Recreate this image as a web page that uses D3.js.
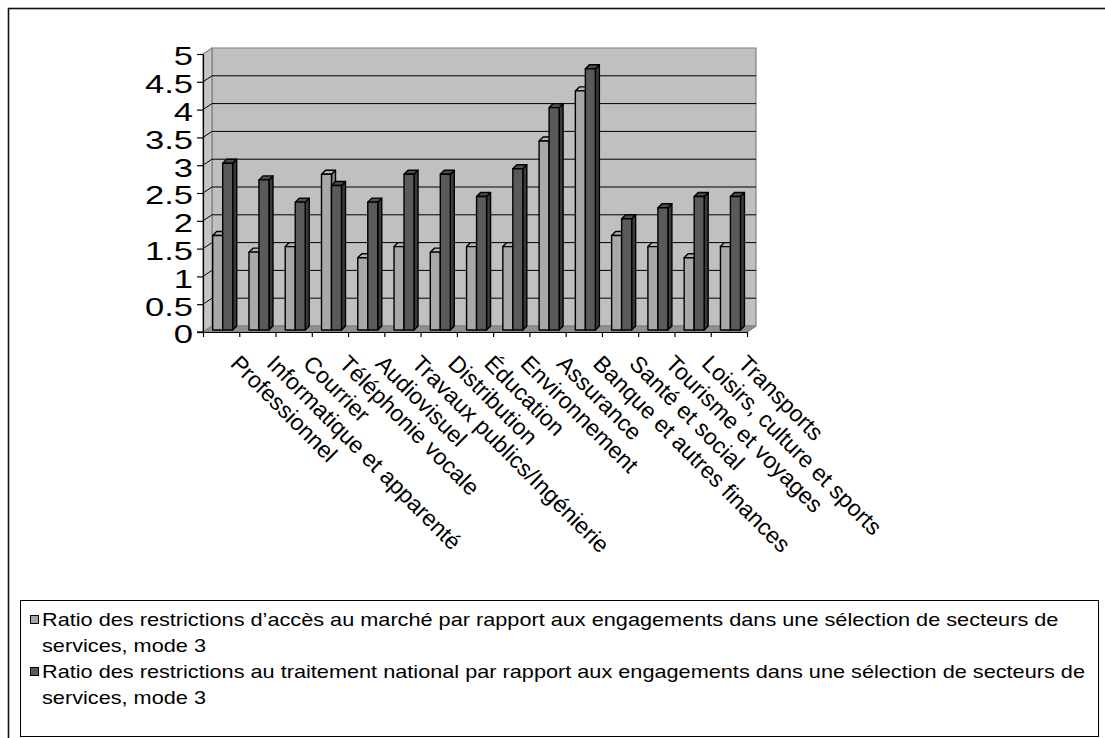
<!DOCTYPE html>
<html>
<head>
<meta charset="utf-8">
<script src="https://cdn.jsdelivr.net/npm/d3@7"></script>
<style>
  html, body { margin: 0; padding: 0; background: #fff; }
  svg { display: block; font-family: "Liberation Sans", Arial, sans-serif; }
</style>
</head>
<body>
<svg id="chart" width="1105" height="738"></svg>
<script>
// Sectors of services (x axis)
const categories = [
  "Professionnel", "Informatique et apparenté", "Courrier", "Téléphonie vocale",
  "Audiovisuel", "Travaux publics/Ingénierie", "Distribution", "Éducation",
  "Environnement", "Assurance", "Banque et autres finances", "Santé et social",
  "Tourisme et voyages", "Loisirs, culture et sports", "Transports"
];
// Ratio of market-access restrictions to commitments, mode 3
const accesMarche = [1.7, 1.4, 1.5, 2.8, 1.3, 1.5, 1.4, 1.5, 1.5, 3.4, 4.3, 1.7, 1.5, 1.3, 1.5];
// Ratio of national-treatment restrictions to commitments, mode 3
const traitementNational = [3.0, 2.7, 2.3, 2.6, 2.3, 2.8, 2.8, 2.4, 2.9, 4.0, 4.7, 2.0, 2.2, 2.4, 2.4];
const yTicks = [0, 0.5, 1, 1.5, 2, 2.5, 3, 3.5, 4, 4.5, 5];
const yTickLabels = ["0", "0.5", "1", "1.5", "2", "2.5", "3", "3.5", "4", "4.5", "5"];
const seriesNames = [
  "Ratio des restrictions d’accès au marché par rapport aux engagements dans une sélection de secteurs de services, mode 3",
  "Ratio des restrictions au traitement national par rapport aux engagements dans une sélection de secteurs de services, mode 3"
];

const svg = d3.select("#chart");

// palette: front / top / side faces for each series
const faces = [
  { front: "#a8a8a8", top: "#b4b4b4", side: "#8a8a8a" },
  { front: "#5a5a5a", top: "#4e4e4e", side: "#3a3a3a" }
];

// front plane geometry, depth offset of the back wall
const x0 = 203, x1 = 747;
const wallDx = 9, wallDy = -6;

const x = d3.scaleBand().domain(categories).range([x0, x1]).padding(0);
const xEdge = d3.scaleLinear().domain([0, categories.length]).range([x0, x1]);
const y = d3.scaleLinear().domain([0, 5]).range([332, 54]);

// outer frame (right and bottom edges lie past the page)
svg.append("rect")
  .attr("x", 8.5).attr("y", 8.5).attr("width", 1120).attr("height", 760)
  .attr("fill", "none").attr("stroke", "#111").attr("stroke-width", 1.6);

const pts = a => a.map(p => p.join(",")).join(" ");

// back wall
svg.append("polygon")
  .attr("points", pts([[x0 + wallDx, y(5) + wallDy], [x1 + wallDx, y(5) + wallDy],
                       [x1 + wallDx, y(0) + wallDy], [x0 + wallDx, y(0) + wallDy]]))
  .attr("fill", "#c0c0c0").attr("stroke", "#808080").attr("stroke-width", 1.2);

// left side wall
svg.append("polygon")
  .attr("points", pts([[x0, y(0)], [x0, y(5)], [x0 + wallDx, y(5) + wallDy], [x0 + wallDx, y(0) + wallDy]]))
  .attr("fill", "#c4c4c4").attr("stroke", "#808080").attr("stroke-width", 1.2);

// floor
svg.append("polygon")
  .attr("points", pts([[x0, y(0)], [x1, y(0)], [x1 + wallDx, y(0) + wallDy], [x0 + wallDx, y(0) + wallDy]]))
  .attr("fill", "#8f8f8f").attr("stroke", "#808080").attr("stroke-width", 1);

// gridlines on back wall and side wall
const grid = svg.append("g");
yTicks.filter(t => t > 0 && t < 5).forEach(t => {
  grid.append("line")
    .attr("x1", x0 + wallDx).attr("x2", x1 + wallDx)
    .attr("y1", y(t) + wallDy).attr("y2", y(t) + wallDy)
    .attr("stroke", "#000").attr("stroke-width", 1);
  grid.append("line")
    .attr("x1", x0).attr("x2", x0 + wallDx)
    .attr("y1", y(t)).attr("y2", y(t) + wallDy)
    .attr("stroke", "#000").attr("stroke-width", 1);
});

// 3D columns
const barW = 10, barOffX = 9.7, barDx = 4, barDy = -4, barLiftY = -2;
const series = [accesMarche, traitementNational];
const bars = svg.append("g");
categories.forEach((cat, i) => {
  series.forEach((vals, s) => {
    const left = x(cat) + barOffX + s * barW;
    const right = left + barW;
    const bottom = y(0) + barLiftY;
    const top = y(vals[i]) + barLiftY;
    const f = faces[s];
    const g = bars.append("g").attr("stroke", "#000").attr("stroke-width", 1.4).attr("stroke-linejoin", "round");
    g.append("polygon").attr("fill", f.side)
      .attr("points", pts([[right, bottom], [right, top], [right + barDx, top + barDy], [right + barDx, bottom + barDy]]));
    g.append("polygon").attr("fill", f.top)
      .attr("points", pts([[left, top], [right, top], [right + barDx, top + barDy], [left + barDx, top + barDy]]));
    g.append("rect").attr("fill", f.front)
      .attr("x", left).attr("y", top).attr("width", barW).attr("height", bottom - top);
  });
});

// y axis
const yAxis = svg.append("g")
  .attr("transform", `translate(${x0},0)`)
  .call(d3.axisLeft(y).tickValues(yTicks).tickSize(6).tickSizeOuter(0).tickFormat(""));
yAxis.select(".domain").attr("stroke", "#000").attr("stroke-width", 1.2);
yAxis.selectAll(".tick line").attr("stroke", "#000").attr("stroke-width", 1.2);

const ySx = 1.33;
svg.append("g").selectAll("text")
  .data(yTicks)
  .join("text")
  .attr("transform", d => `translate(193,${y(d) + 2}) scale(${ySx},1)`)
  .attr("text-anchor", "end")
  .attr("dy", "0.36em")
  .attr("font-size", 26)
  .attr("fill", "#000")
  .text((d, i) => yTickLabels[i]);

// x axis with ticks at category boundaries
const xAxis = svg.append("g")
  .attr("transform", `translate(0,${y(0)})`)
  .call(d3.axisBottom(xEdge).tickValues(d3.range(categories.length + 1)).tickSize(5).tickSizeOuter(0).tickFormat(""));
xAxis.select(".domain").attr("stroke", "#000").attr("stroke-width", 1.2);
xAxis.selectAll(".tick line").attr("stroke", "#000").attr("stroke-width", 1.2);
svg.append("line")
  .attr("x1", x0 - 6).attr("x2", x0).attr("y1", y(0)).attr("y2", y(0))
  .attr("stroke", "#000").attr("stroke-width", 1.2);
svg.append("line")
  .attr("x1", x1).attr("x2", x1 + wallDx).attr("y1", y(0)).attr("y2", y(0) + wallDy)
  .attr("stroke", "#808080").attr("stroke-width", 1.2);

// rotated category labels
svg.append("g").selectAll("text")
  .data(categories)
  .join("text")
  .attr("transform", d => `translate(${x(d) + x.bandwidth() / 2 + 8},365) rotate(45)`)
  .attr("font-size", 23)
  .attr("fill", "#000")
  .text(d => d);

// legend
const legend = svg.append("g");
legend.append("rect")
  .attr("x", 20.5).attr("y", 600.5).attr("width", 1078).attr("height", 136)
  .attr("fill", "#fff").attr("stroke", "#000").attr("stroke-width", 1);

const legSx = 1.24;
const entryTop = [626, 678];
seriesNames.forEach((name, s) => {
  const lines = name.split(/ (?=services, mode 3)/);
  legend.append("rect")
    .attr("x", 30.5).attr("y", entryTop[s] - 10.5).attr("width", 8).attr("height", 8)
    .attr("fill", faces[s].front).attr("stroke", "#000").attr("stroke-width", 1);
  lines.forEach((ln, k) => {
    legend.append("text")
      .attr("transform", `translate(42,${entryTop[s] + k * 25.5}) scale(${legSx},1)`)
      .attr("font-size", 17.5)
      .attr("fill", "#000")
      .text(ln);
  });
});
</script>
</body>
</html>
